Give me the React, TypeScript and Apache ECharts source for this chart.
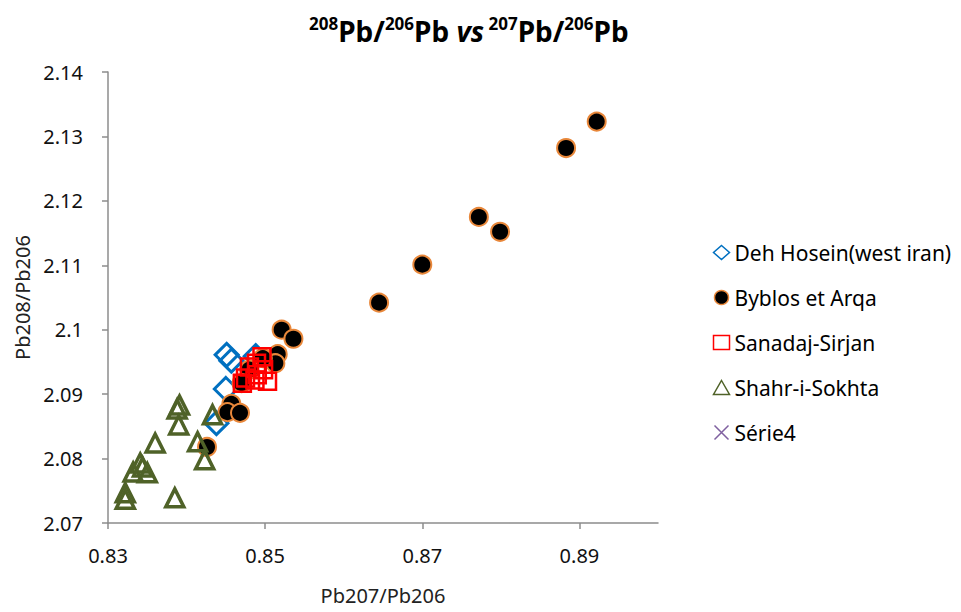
import React, { useEffect, useRef } from "react";
import * as echarts from "echarts";

const FONT = "'Noto Sans', 'Open Sans', sans-serif";

const xTicks = [0.83, 0.85, 0.87, 0.89];
const seriesNames = ["Deh Hosein(west iran)", "Byblos et Arqa", "Sanadaj-Sirjan", "Shahr-i-Sokhta", "Série4"];

const dehHoseinX = [0.8451, 0.8457, 0.8450, 0.8438, 0.8488];
const dehHoseinY = [2.0961, 2.0952, 2.0908, 2.0855, 2.0959];

const byblosX = [0.8922, 0.8883, 0.8772, 0.8799, 0.8700, 0.8645, 0.8521, 0.8536, 0.8516, 0.8513, 0.8497, 0.8480, 0.8470, 0.8457, 0.8452, 0.8468, 0.8426];
const byblosY = [2.1323, 2.1282, 2.1175, 2.1152, 2.1101, 2.1042, 2.1000, 2.0986, 2.0962, 2.0948, 2.0956, 2.0938, 2.0917, 2.0885, 2.0872, 2.0871, 2.0818];

const sanadajX = [0.8496, 0.8489, 0.8480, 0.8498, 0.8475, 0.8487, 0.8503, 0.8471, 0.8490];
const sanadajY = [2.0958, 2.0948, 2.0942, 2.0938, 2.0925, 2.0922, 2.0920, 2.0917, 2.0930];

const shahrX = [0.8391, 0.8388, 0.8390, 0.8433, 0.8414, 0.8423, 0.8360, 0.8341, 0.8332, 0.8350, 0.8344, 0.8322, 0.8322, 0.8385];
const shahrY = [2.0883, 2.0877, 2.0852, 2.0868, 2.0826, 2.0798, 2.0824, 2.0793, 2.0779, 2.0778, 2.0787, 2.0747, 2.0737, 2.0739];

const serie4X: number[] = [];
const serie4Y: number[] = [];

const pairs = (xs: number[], ys: number[]) => xs.map((x, i) => [x, ys[i]]);

export default function App() {
  const ref = useRef<HTMLDivElement>(null);
  useEffect(() => {
    if (!ref.current) return;
    const chart = echarts.init(ref.current, null, { renderer: "svg" });
    const clear = "rgba(0,0,0,0)";
    chart.setOption({
      animation: false,
      backgroundColor: "#fff",
      title: {
        text: "{s|208}{b|Pb/}{s|206}{b|Pb }{i|vs}{s| 207}{b|Pb/}{s|206}{b|Pb}",
        left: 304,
        top: 10,
        textStyle: {
          rich: {
            b: { fontFamily: FONT, fontSize: 28, fontWeight: "bold", color: "#000" },
            i: { fontFamily: FONT, fontSize: 28, fontWeight: "bold", fontStyle: "italic", color: "#000" },
            s: { fontFamily: FONT, fontSize: 17, fontWeight: "bold", color: "#000", padding: [0, 0, 14, 0] },
          },
        },
      },
      grid: { left: 108, right: 303, top: 72, bottom: 89, containLabel: false, outerBoundsMode: "none" },
      legend: {
        orient: "vertical",
        left: 707,
        top: 237,
        itemWidth: 16,
        itemHeight: 14,
        itemGap: 24,
        itemStyle: { borderWidth: 1.5 },
        textStyle: { fontFamily: FONT, fontSize: 21, color: "#000", lineHeight: 20 },
        data: seriesNames,
      },
      xAxis: {
        type: "value",
        min: 0.83,
        max: 0.9,
        interval: 0.02,
        name: "Pb207/Pb206",
        nameLocation: "middle",
        nameGap: 62,
        nameTextStyle: { fontFamily: FONT, fontSize: 20, color: "#222" },
        axisLine: { show: true, onZero: false, lineStyle: { color: "#8c8c8c", width: 1.5 } },
        axisTick: { show: true, length: 6, customValues: xTicks, lineStyle: { color: "#8c8c8c", width: 1.5 } },
        axisLabel: { customValues: xTicks, fontFamily: FONT, fontSize: 20, color: "#111", margin: 22, formatter: (v: number) => v.toFixed(2) },
        splitLine: { show: false },
      },
      yAxis: {
        type: "value",
        min: 2.07,
        max: 2.14,
        interval: 0.01,
        name: "Pb208/Pb206",
        nameLocation: "middle",
        nameGap: 76,
        nameTextStyle: { fontFamily: FONT, fontSize: 20, color: "#222" },
        axisLine: { show: true, onZero: false, lineStyle: { color: "#8c8c8c", width: 1.5 } },
        axisTick: { show: true, length: 6, lineStyle: { color: "#8c8c8c", width: 1.5 } },
        axisLabel: { fontFamily: FONT, fontSize: 20, color: "#111", margin: 25, formatter: (v: number) => String(+v.toFixed(2)) },
        splitLine: { show: false },
      },
      series: [
        {
          name: seriesNames[0],
          type: "scatter",
          symbol: "diamond",
          symbolSize: 23,
          itemStyle: { color: clear, borderColor: "#0070C0", borderWidth: 3, opacity: 1 },
          data: pairs(dehHoseinX, dehHoseinY),
        },
        {
          name: seriesNames[1],
          type: "scatter",
          symbol: "circle",
          symbolSize: 18,
          itemStyle: { color: "#000", borderColor: "#E8873A", borderWidth: 2, opacity: 1 },
          data: pairs(byblosX, byblosY),
        },
        {
          name: seriesNames[2],
          type: "scatter",
          symbol: "rect",
          symbolSize: 17,
          itemStyle: { color: clear, borderColor: "#FF0000", borderWidth: 2.5, opacity: 1 },
          data: pairs(sanadajX, sanadajY),
        },
        {
          name: seriesNames[3],
          type: "scatter",
          symbol: "triangle",
          symbolSize: 18,
          itemStyle: { color: clear, borderColor: "#4F6228", borderWidth: 3.5, opacity: 1 },
          data: pairs(shahrX, shahrY),
        },
        {
          name: seriesNames[4],
          type: "scatter",
          symbol: "path://M0,0L10,10M10,0L0,10",
          symbolSize: 14,
          itemStyle: { color: "none", borderColor: "#7F60A0", borderWidth: 1.5, opacity: 1 },
          data: pairs(serie4X, serie4Y),
        },
      ],
    });
    return () => chart.dispose();
  }, []);
  return <div ref={ref} style={{ position: "absolute", left: 0, top: 0, width: 961, height: 612 }} />;
}
